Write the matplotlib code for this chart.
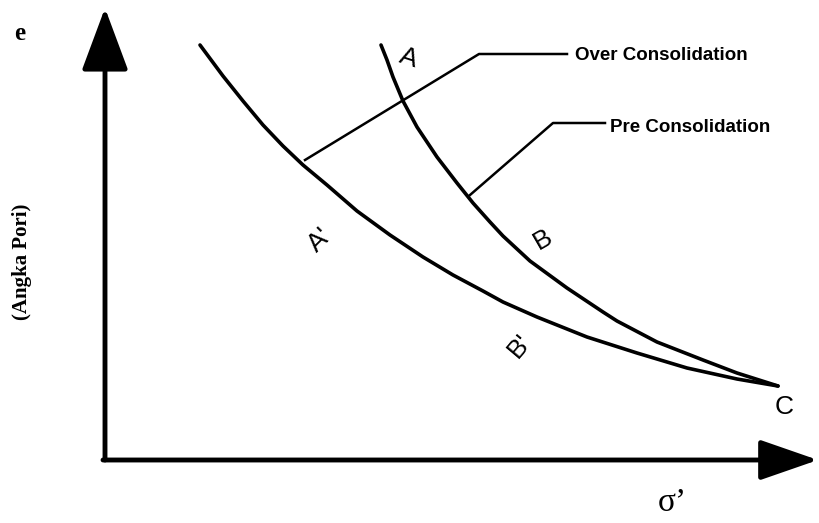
import matplotlib.pyplot as plt

# Curves (x, y in picture units, y grows downward)
pre_x = [381, 387, 393, 403, 417, 437, 457, 473, 490, 503, 530, 567, 603, 617, 657, 703, 737, 778]
pre_y = [45, 60, 77, 101, 127, 157, 183, 203, 222, 236, 261, 288, 312, 321, 342, 360, 373, 386]

over_x = [200, 223, 243, 263, 283, 303, 327, 357, 390, 423, 453, 483, 503, 537, 587, 637, 687, 737, 778]
over_y = [45, 76, 101, 125, 146, 165, 185, 211, 235, 257, 275, 291, 302, 317, 337, 353, 368, 379, 386]

# Leader lines to the callout texts
over_leader_x = [305, 479, 567]
over_leader_y = [160, 54, 54]
pre_leader_x = [470, 553, 605]
pre_leader_y = [195, 123, 123]

# Axis extent
origin = (105, 460)
y_tip = (105, 8)
x_tip = (818, 460)

fig = plt.figure(figsize=(8.19, 5.23), dpi=100)
ax = fig.add_axes([0, 0, 1, 1])
ax.set_xlim(0, 819)
ax.set_ylim(523, 0)
ax.axis('off')

# Axes with big triangle heads
arrow = dict(arrowstyle='-|>,head_length=3.9,head_width=1.45', lw=3.5, color='black',
             shrinkA=0, shrinkB=0, mutation_scale=10)
ax.annotate('', xy=y_tip, xytext=origin, arrowprops=arrow)
arrow_x = dict(arrow, arrowstyle='-|>,head_length=3.6,head_width=1.25')
ax.annotate('', xy=x_tip, xytext=(origin[0] - 2, origin[1]), arrowprops=arrow_x)

# Curves
ax.plot(pre_x, pre_y, color='black', lw=2.6, solid_capstyle='round', solid_joinstyle='round')
ax.plot(over_x, over_y, color='black', lw=2.6, solid_capstyle='round', solid_joinstyle='round')

# Callouts
ax.plot(over_leader_x, over_leader_y, color='black', lw=1.8)
ax.plot(pre_leader_x, pre_leader_y, color='black', lw=1.8)
ax.text(575, 55, 'Over Consolidation', fontsize=13.5, fontweight='bold',
        family='Liberation Sans', va='center', ha='left')
ax.text(610, 127, 'Pre Consolidation', fontsize=13.5, fontweight='bold',
        family='Liberation Sans', va='center', ha='left')

# Point labels
lab = dict(fontsize=19, family='Liberation Sans', ha='center', va='center')
ax.text(408, 58, 'A', rotation=-18, **lab)
ax.text(543, 240, 'B', rotation=30, **lab)
ax.text(320, 240, "A'", rotation=45, **lab)
ax.text(520, 346, "B'", rotation=50, **lab)
ax.text(784, 407, 'C', **lab)

# Axis titles
ax.text(20, 33, 'e', fontsize=18, fontweight='bold', family='Liberation Serif',
        ha='center', va='center')
ax.text(22, 262, '(Angka Pori)', fontsize=15, fontweight='bold', family='Liberation Serif',
        rotation=90, ha='center', va='center')
ax.text(672, 503, 'σ’', fontsize=24, family='Liberation Serif', ha='center', va='center')

fig.savefig('out.png', dpi=100, facecolor='white')
